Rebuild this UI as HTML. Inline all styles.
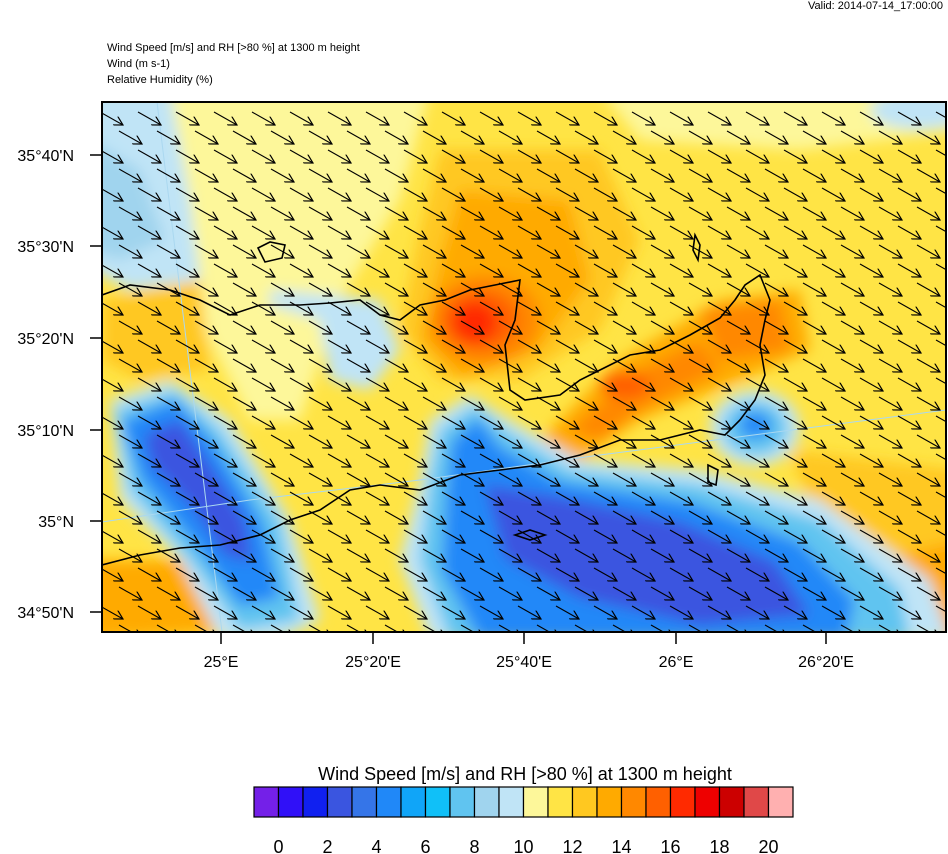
<!DOCTYPE html>
<html><head><meta charset="utf-8"><style>
html,body{margin:0;padding:0;background:#fff;}
svg{display:block;font-family:"Liberation Sans",sans-serif;}
</style></head><body>
<svg width="948" height="854" viewBox="0 0 948 854" xmlns="http://www.w3.org/2000/svg">
<defs>
<clipPath id="c"><rect x="102" y="102" width="844" height="530"/></clipPath>
<filter id="b" x="-10%" y="-10%" width="120%" height="120%"><feGaussianBlur stdDeviation="7"/></filter>
<marker id="ah" markerWidth="10" markerHeight="10" refX="9" refY="5" orient="auto" markerUnits="userSpaceOnUse"><path d="M0,0 L9,5 L0,10" fill="none" stroke="#000" stroke-width="1.2"/></marker>
</defs>
<text x="943" y="9" font-size="11" text-anchor="end">Valid: 2014-07-14_17:00:00</text>
<text x="107" y="51" font-size="11">Wind Speed [m/s] and RH [&gt;80 %] at 1300 m height</text>
<text x="107" y="67" font-size="11">Wind   (m s-1)</text>
<text x="107" y="83" font-size="11">Relative Humidity   (%)</text>
<g clip-path="url(#c)">
<rect x="102" y="102" width="844" height="530" fill="#ffe445"/>
<g filter="url(#b)">
<path d="M160,90 L430,90 L400,200 L340,300 L300,420 L250,420 L200,320 L150,260 Z" fill="#fdf79a"/>
<path d="M600,90 L960,90 L960,130 L800,150 L640,140 Z" fill="#fdf79a"/>
<path d="M90,90 L170,90 L190,200 L200,280 L130,290 L90,270 Z" fill="#c0e4f6"/>
<path d="M90,140 L140,170 L165,240 L120,260 L90,250 Z" fill="#a0d4ee"/>
<ellipse cx="920" cy="110" rx="50" ry="20" fill="#c0e4f6"/>
<path d="M270,290 L330,295 L380,300 L400,350 L370,390 L330,380 L320,320 L270,305 Z" fill="#c0e4f6"/>
<path d="M440,150 L600,150 L640,240 L600,330 L520,380 L440,380 L400,330 L420,230 Z" fill="#ffc820"/>
<path d="M460,190 L570,200 L590,280 L540,350 L460,380 L420,340 L440,260 Z" fill="#ffaa00"/>
<ellipse cx="485" cy="320" rx="55" ry="45" fill="#ff8800"/>
<ellipse cx="480" cy="320" rx="38" ry="30" fill="#ff6000"/>
<ellipse cx="475" cy="322" rx="22" ry="20" fill="#ff2a00"/>
<path d="M540,440 L620,360 L720,300 L800,290 L810,350 L740,380 L640,420 L580,460 Z" fill="#ffaa00"/>
<path d="M570,430 L640,370 L700,340 L720,370 L640,410 L600,440 Z" fill="#ff8800"/>
<ellipse cx="625" cy="385" rx="25" ry="14" fill="#ff6000"/>
<path d="M700,310 L780,300 L790,350 L720,360 Z" fill="#ff8800"/>
<path d="M102,300 L200,280 L210,370 L140,380 L102,360 Z" fill="#ffc820"/>
<path d="M90,560 L200,560 L230,632 L90,640 Z" fill="#ffaa00"/>
<path d="M790,450 L960,470 L960,640 L850,640 L830,560 Z" fill="#ffc820"/>
<path d="M880,560 L960,540 L960,640 L900,640 Z" fill="#ffaa00"/>
<path d="M110,400 L170,380 L230,420 L290,520 L320,620 L280,640 L220,640 L180,560 L120,500 Z" fill="#c0e4f6"/>
<path d="M115,410 L175,390 L220,430 L280,520 L300,620 L240,630 L190,560 L130,490 Z" fill="#60c4f0"/>
<path d="M122,422 L175,400 L213,442 L262,522 L280,598 L240,606 L200,550 L142,480 Z" fill="#2088f8"/>
<path d="M145,435 L180,420 L208,462 L245,520 L252,562 L225,555 L195,510 L152,465 Z" fill="#3a55e0"/>
<path d="M430,420 L470,395 L510,420 L580,460 L700,470 L820,500 L930,580 L950,640 L430,640 L400,560 L420,480 Z" fill="#c0e4f6"/>
<path d="M440,430 L475,405 L505,430 L570,470 L700,485 L820,520 L900,590 L910,640 L450,640 L420,560 L430,480 Z" fill="#60c4f0"/>
<path d="M452,442 L478,418 L500,447 L560,482 L690,502 L800,542 L855,600 L845,640 L480,640 L442,570 L447,490 Z" fill="#2088f8"/>
<path d="M485,485 L560,497 L680,522 L775,562 L810,615 L700,625 L580,598 L505,558 Z" fill="#3a55e0"/>
<ellipse cx="755" cy="428" rx="45" ry="38" fill="#c0e4f6"/>
<ellipse cx="755" cy="428" rx="32" ry="27" fill="#60c4f0"/>
<ellipse cx="755" cy="425" rx="16" ry="13" fill="#2088f8"/>
</g>
<g stroke="#aad8f0" stroke-width="1" fill="none">
<path d="M157,102 L222,632"/><path d="M102,522 L250,500 L420,480 L600,455 L946,410"/>
</g>
<g id="arrows" stroke="#000" stroke-width="1.1" marker-end="url(#ah)">
</g>
<g fill="none" stroke="#000" stroke-width="1.6">
<path d="M102,295 L130,285 L170,290 L200,300 L230,315 L260,305 L300,305 L330,303 L360,300 L380,315 L400,320 L420,305 L445,300 L470,290 L495,285 L520,280 L515,320 L505,345 L510,390 L525,400 L560,395 L580,380 L600,370 L630,355 L660,350 L690,335 L720,318 L735,300 L745,285 L760,275 L770,300 L765,320 L760,345 L765,375 L755,400 L740,420 L725,435 L700,430 L660,440 L620,440 L580,455 L540,465 L500,470 L460,475 L420,490 L380,485 L350,490 L320,510 L290,520 L260,535 L220,545 L180,548 L140,555 L102,565"/>
<path d="M258,248 L270,242 L285,245 L282,258 L265,262 Z"/>
<path d="M515,535 L530,530 L545,535 L530,540 Z"/>
<path d="M708,465 L718,470 L716,485 L708,482 Z"/>
<path d="M695,235 L700,245 L698,260 L693,250 Z"/>
</g>
</g>
<rect x="102" y="102" width="844" height="530" fill="none" stroke="#000" stroke-width="2"/>
<g font-size="16" text-anchor="end">
<text x="74" y="161">35°40'N</text><text x="74" y="252">35°30'N</text><text x="74" y="344">35°20'N</text>
<text x="74" y="436">35°10'N</text><text x="74" y="527">35°N</text><text x="74" y="618">34°50'N</text>
</g>
<g stroke="#000" stroke-width="1.5">
<path d="M90,155h12M90,246h12M90,338h12M90,430h12M90,521h12M90,612h12M221,632v12M373,632v12M524,632v12M676,632v12M826,632v12"/>
</g>
<g font-size="16" text-anchor="middle">
<text x="221" y="667">25°E</text><text x="373" y="667">25°20'E</text><text x="524" y="667">25°40'E</text><text x="676" y="667">26°E</text><text x="826" y="667">26°20'E</text>
</g>
<text x="525" y="780" font-size="18" text-anchor="middle">Wind Speed [m/s] and RH [&gt;80 %] at 1300 m height</text>
<g id="cb" stroke="#000" stroke-width="1.2"></g>
<g font-size="18" text-anchor="middle" id="cbl"></g>
</svg>
<script>
var ns="http://www.w3.org/2000/svg";
var cols=["#7420e8","#3010f8","#1020f0","#3a55e0","#3575e8","#2088f8","#10a5f8","#10c0f8","#60c4f0","#a0d4ee","#c0e4f6","#fdf79a","#ffe445","#ffc820","#ffaa00","#ff8800","#ff6000","#ff2a00","#ee0000","#cc0000","#e04848","#ffb0b0"];
var cb=document.getElementById("cb"),w=539/22;
cols.forEach(function(c,i){var r=document.createElementNS(ns,"rect");r.setAttribute("x",254+i*w);r.setAttribute("y",787);r.setAttribute("width",w);r.setAttribute("height",30);r.setAttribute("fill",c);cb.appendChild(r);});
var l=document.getElementById("cbl");
for(var i=0;i<=10;i++){var t=document.createElementNS(ns,"text");t.setAttribute("x",254+w*(1+2*i));t.setAttribute("y",853);t.textContent=2*i;l.appendChild(t);}
var a=document.getElementById("arrows");
for(var r=0;r<29;r++){for(var k=0;k<24;k++){var x=100+k*38+(r%2)*19,y=112+r*19;var p=document.createElementNS(ns,"line");p.setAttribute("x1",x);p.setAttribute("y1",y);p.setAttribute("x2",x+23);p.setAttribute("y2",y+13);a.appendChild(p);}}
</script>
</body></html>
